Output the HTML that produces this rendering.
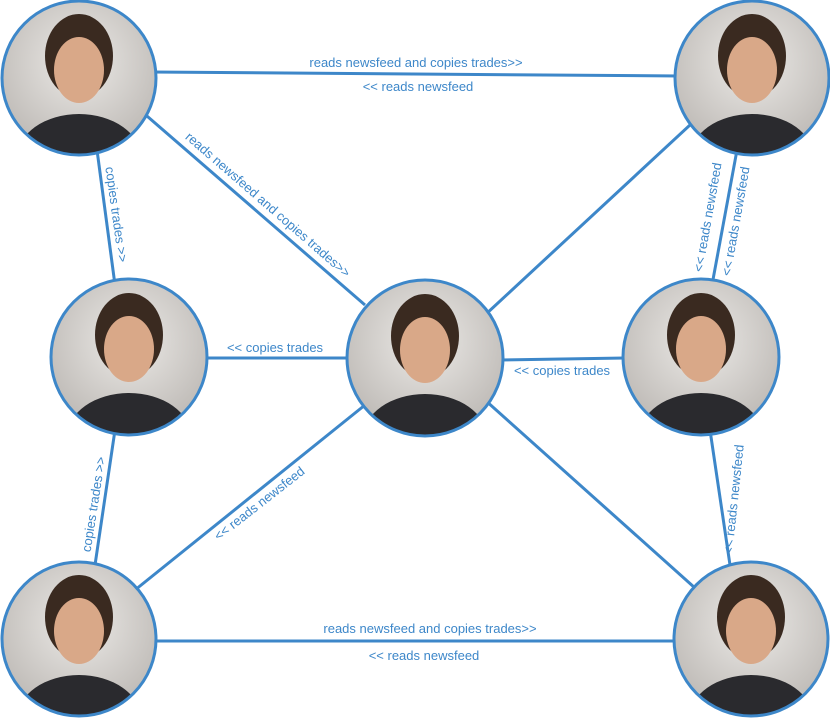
<!DOCTYPE html>
<html><head><style>
html,body{margin:0;padding:0;background:#fff;width:830px;height:718px;overflow:hidden;}
svg{display:block;}
text{font-family:"Liberation Sans",sans-serif;font-size:13px;fill:#3d87c9;}
</style></head><body>
<svg width="830" height="718" viewBox="0 0 830 718">
<defs>
<radialGradient id="bg" cx="50%" cy="40%" r="60%"><stop offset="0" stop-color="#eceae7"/><stop offset="1" stop-color="#bdb9b5"/></radialGradient>
<clipPath id="c"><circle cx="0" cy="0" r="77"/></clipPath>
<g id="p" clip-path="url(#c)" stroke="none">
<rect x="-80" y="-80" width="160" height="160" fill="url(#bg)"/>
<ellipse cx="0" cy="-22" rx="34" ry="42" fill="#3a2a20"/>
<ellipse cx="0" cy="-8" rx="25" ry="33" fill="#d9a888"/>
<ellipse cx="0" cy="80" rx="62" ry="44" fill="#2a2a2e"/>
</g>
</defs>
<g stroke="#3d87c9" stroke-width="3" fill="none">
<line x1="150" y1="72" x2="680" y2="76"/>
<line x1="140" y1="110" x2="365" y2="305"/>
<line x1="97" y1="150" x2="115" y2="285"/>
<line x1="200" y1="358" x2="350" y2="358"/>
<line x1="115" y1="430" x2="95" y2="565"/>
<line x1="365" y1="405" x2="135" y2="590"/>
<line x1="485" y1="315" x2="690" y2="125"/>
<line x1="500" y1="360" x2="625" y2="358"/>
<line x1="485" y1="400" x2="695" y2="588"/>
<line x1="737" y1="150" x2="712" y2="285"/>
<line x1="710" y1="430" x2="730" y2="565"/>
<line x1="150" y1="641" x2="680" y2="641"/>
</g>
<use href="#p" x="79" y="78"/>
<use href="#p" x="752" y="78"/>
<use href="#p" x="129" y="357"/>
<use href="#p" x="425" y="358"/>
<use href="#p" x="701" y="357"/>
<use href="#p" x="79" y="639"/>
<use href="#p" x="751" y="639"/>
<g stroke="#3d87c9" stroke-width="3" fill="none">
<circle cx="79" cy="78" r="77"/>
<circle cx="752" cy="78" r="77"/>
<circle cx="129" cy="357" r="78"/>
<circle cx="425" cy="358" r="78"/>
<circle cx="701" cy="357" r="78"/>
<circle cx="79" cy="639" r="77"/>
<circle cx="751" cy="639" r="77"/>
</g>
<g text-anchor="middle">
<text x="416" y="67">reads newsfeed and copies trades&gt;&gt;</text>
<text x="418" y="91">&lt;&lt; reads newsfeed</text>
<text transform="translate(112,215) rotate(82)">copies trades &gt;&gt;</text>
<text transform="translate(265,208) rotate(41)">reads newsfeed and copies trades&gt;&gt;</text>
<text x="275" y="352">&lt;&lt; copies trades</text>
<text transform="translate(98,505) rotate(-81)">copies trades &gt;&gt;</text>
<text transform="translate(262,507) rotate(-38)">&lt;&lt; reads newsfeed</text>
<text x="562" y="375">&lt;&lt; copies trades</text>
<text transform="translate(712,218) rotate(-80)">&lt;&lt; reads newsfeed</text>
<text transform="translate(740,222) rotate(-80)">&lt;&lt; reads newsfeed</text>
<text transform="translate(738,500) rotate(-84)">&lt;&lt; reads newsfeed</text>
<text x="430" y="633">reads newsfeed and copies trades&gt;&gt;</text>
<text x="424" y="660">&lt;&lt; reads newsfeed</text>
</g>
</svg>
</body></html>
